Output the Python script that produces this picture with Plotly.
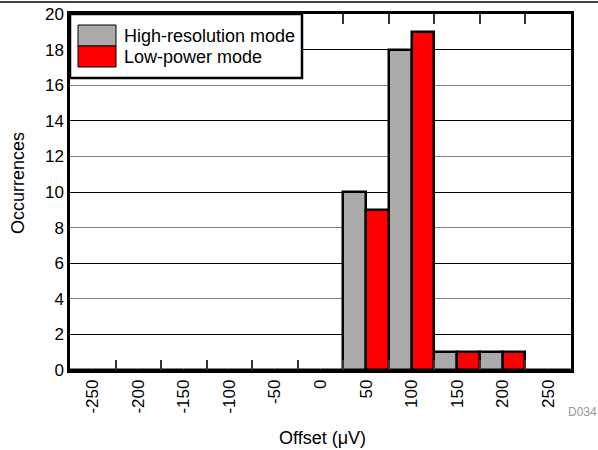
import plotly.graph_objects as go

categories = ["-250", "-200", "-150", "-100", "-50", "0", "50", "100", "150", "200", "250"]
high_res = [0, 0, 0, 0, 0, 0, 10, 18, 1, 1, 0]
low_power = [0, 0, 0, 0, 0, 0, 9, 19, 1, 1, 0]
series_names = ["High-resolution mode", "Low-power mode"]
series_colors = ["#aaaaaa", "#ff0000"]
y_ticks = list(range(0, 21, 2))

FONT = "Liberation Sans, Arial, sans-serif"
L, R, T, B = 70, 27, 14, 80
PW, PH = 598 - L - R, 450 - T - B


def px(xpix):
    return (xpix - L) / PW


def py(ypix):
    return (450 - B - ypix) / PH


fig = go.Figure()
for name, vals, col in zip(series_names, [high_res, low_power], series_colors):
    fig.add_trace(go.Bar(
        x=categories, y=vals, name=name, showlegend=False,
        marker=dict(color=col, line=dict(color="black", width=2.5)),
    ))

# helper trace on overlay axis carrying the darker gridlines
fig.add_trace(go.Scatter(x=[categories[0]], y=[0], yaxis="y2", mode="markers",
                         marker=dict(opacity=0), showlegend=False, hoverinfo="skip"))

fig.update_layout(
    template="none",
    width=598, height=450,
    margin=dict(l=L, r=R, t=T, b=B, autoexpand=False),
    paper_bgcolor="white", plot_bgcolor="white",
    barmode="group", bargap=0, bargroupgap=0,
    font=dict(family=FONT, size=17, color="black"),
    xaxis=dict(
        type="category", range=[-0.5, 10.5], automargin=False,
        tickson="boundaries", ticks="inside", ticklen=10, tickcolor="#333", tickwidth=1.5,
        showline=True, linecolor="black", linewidth=2.5, mirror="ticks",
        showgrid=False, tickangle=-90,
        tickfont=dict(size=17),
    ),
    yaxis=dict(
        range=[0, 20], tickvals=y_ticks, automargin=False,
        showgrid=True, gridcolor="#808080", gridwidth=1,
        showline=True, linecolor="black", linewidth=2.5, mirror=True,
        ticks="", zeroline=False,
        tickfont=dict(size=17),
    ),
    yaxis2=dict(
        overlaying="y", range=[0, 20], tickvals=y_ticks[1::2],
        showgrid=True, gridcolor="black", gridwidth=1,
        showticklabels=False, ticks="", zeroline=False, showline=False,
    ),
)

# axis titles
fig.add_annotation(xref="paper", yref="paper", x=px(18), y=py(183), text="Occurrences",
                   textangle=-90, showarrow=False, xanchor="center", yanchor="middle",
                   font=dict(size=18, family=FONT))
fig.add_annotation(xref="paper", yref="paper", x=px(322), y=py(438), text="Offset (μV)",
                   showarrow=False, xanchor="center", yanchor="middle",
                   font=dict(size=18, family=FONT))

# header rule
fig.add_shape(type="line", xref="paper", yref="paper",
              x0=px(0), x1=px(598), y0=py(2), y1=py(2),
              line=dict(color="black", width=1.5))

# custom legend
fig.add_shape(type="rect", xref="paper", yref="paper",
              x0=px(70), x1=px(302), y0=py(78), y1=py(14),
              fillcolor="white", line=dict(color="black", width=2.5), layer="above")
sw_top = [25, 46]
for i, (name, col) in enumerate(zip(series_names, series_colors)):
    y_top = sw_top[i]
    y_bot = y_top + 21
    fig.add_shape(type="rect", xref="paper", yref="paper",
                  x0=px(78), x1=px(116), y0=py(y_bot), y1=py(y_top),
                  fillcolor=col, line=dict(color="black", width=1), layer="above")
    fig.add_annotation(xref="paper", yref="paper", x=px(122), y=py(y_top + 11),
                       text=name, showarrow=False, xanchor="left", yanchor="middle",
                       font=dict(size=18, family=FONT))

fig.add_annotation(xref="paper", yref="paper", x=px(582), y=py(412),
                   text="D034", showarrow=False, xanchor="center", yanchor="middle",
                   font=dict(size=12, color="#999999", family=FONT))

fig.write_html("out.html", config={"displayModeBar": False},
               post_script="document.body.style.margin='0';")
